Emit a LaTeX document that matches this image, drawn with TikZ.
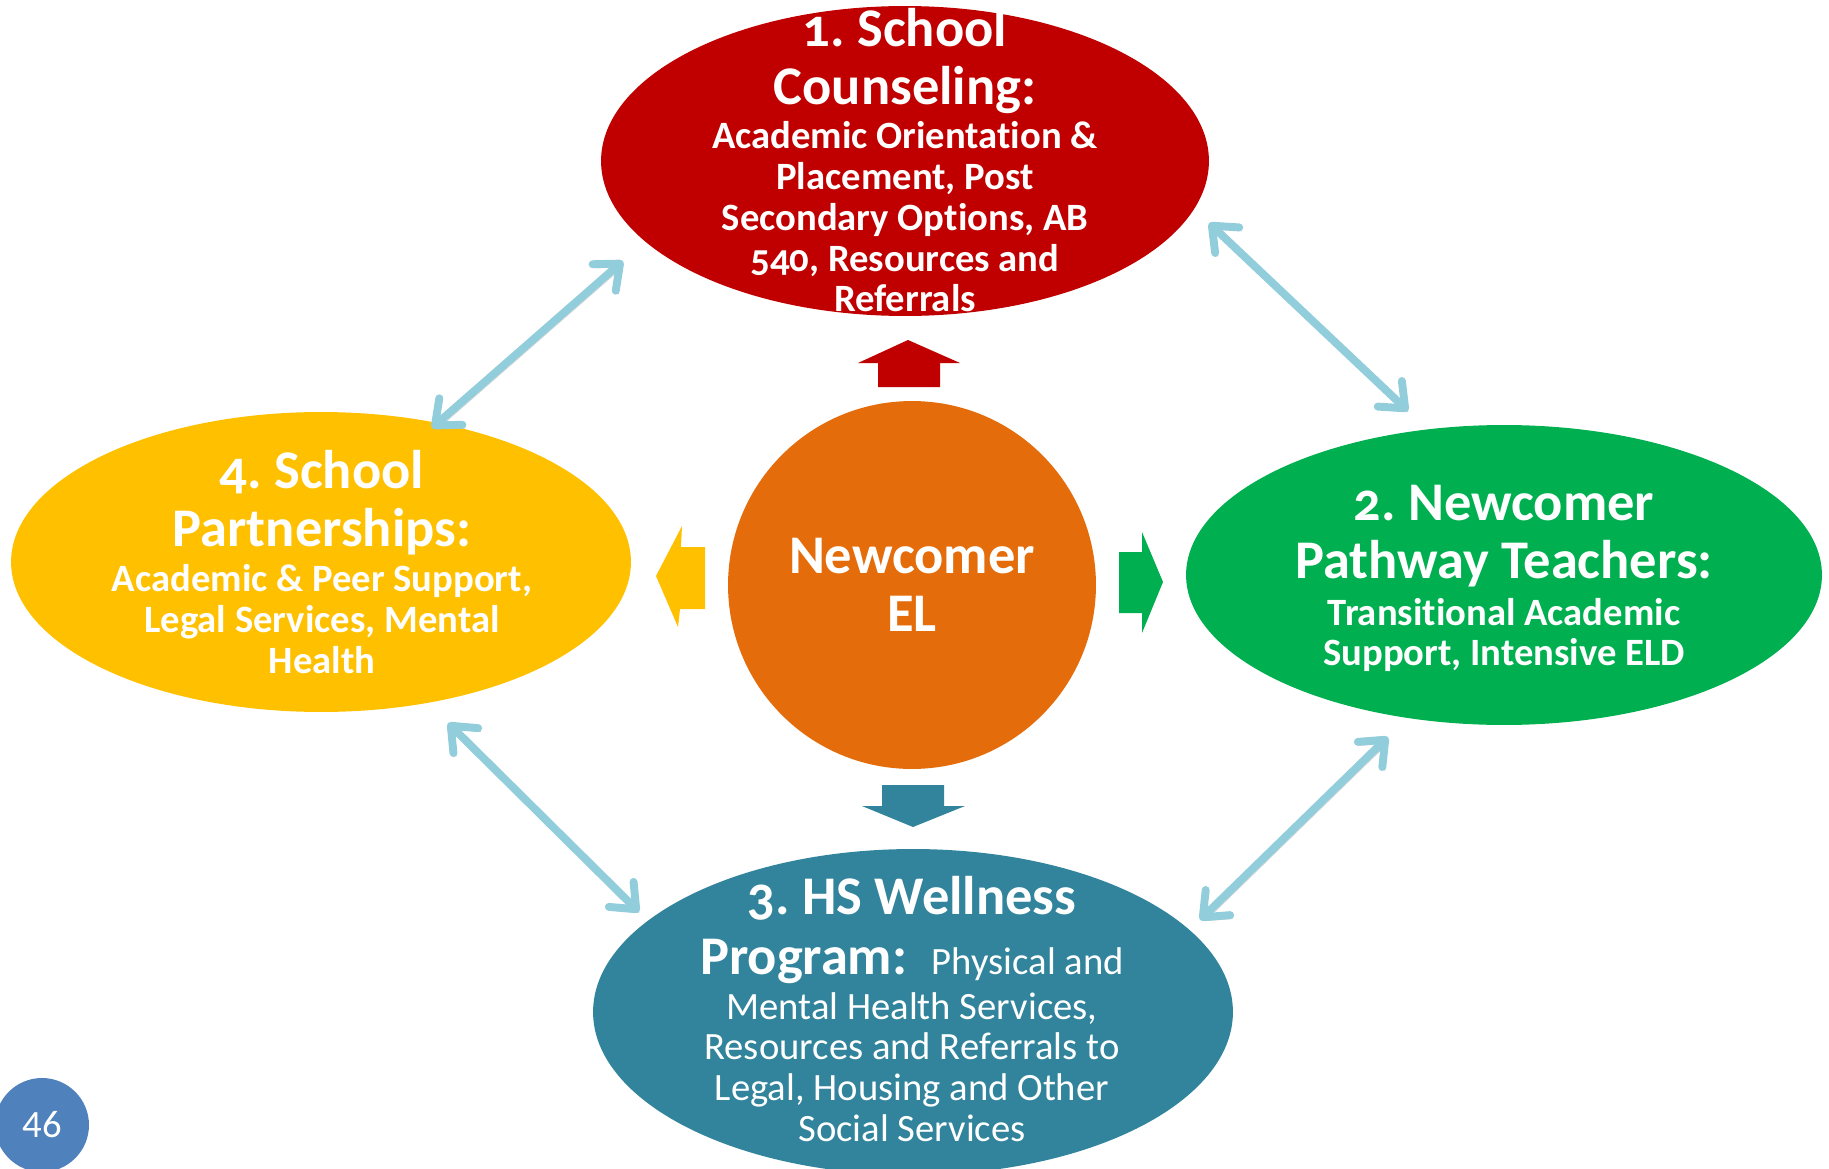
\documentclass[tikz,border=0pt]{standalone}
\usepackage{fontspec}
\setmainfont{Carlito}[Numbers=OldStyle, Ligatures=CommonOff]
\newfontfamily\pagefont{Carlito}
\usepackage{tikz}
\usetikzlibrary{shapes.geometric}
\usetikzlibrary{arrows.meta}
\usepackage{xcolor}
\frenchspacing

\definecolor{counselred}{HTML}{C00000}
\definecolor{elorange}{HTML}{E46C0A}
\definecolor{partneryellow}{HTML}{FFC000}
\definecolor{pathgreen}{HTML}{00B050}
\definecolor{wellteal}{HTML}{31849B}
\definecolor{linkblue}{HTML}{92CDDC}
\definecolor{pageblue}{HTML}{4F81BD}

\tikzset{
  bubble/.style={ellipse, inner sep=0pt},
  headtxt/.style={text=white, align=center, font=\fontsize{31}{33}\selectfont\bfseries},
  bodytxt/.style={text=white, align=center, font=\fontsize{22}{23.2}\selectfont\bfseries},
  biarrow/.style={line width=4.5pt, draw=linkblue,
    {Straight Barb[round,length=12pt,width=20pt]}-{Straight Barb[round,length=12pt,width=20pt]},
    preaction={draw=black!45, opacity=.4, transform canvas={shift={(1.5pt,-2pt)}}}}
}

\begin{document}
\begin{tikzpicture}[x=0.02cm, y=-0.02cm]
  \useasboundingbox (0,0) rectangle (1829,1169);

  \node[bubble, fill=counselred, minimum width=12.16cm, minimum height=6.2cm] (counsel) at (905,161) {};
  \node[bubble, fill=partneryellow, minimum width=12.4cm, minimum height=6cm] (partner) at (321,562) {};
  \node[bubble, fill=pathgreen, minimum width=12.72cm, minimum height=6cm] (pathway) at (1504,575) {};
  \node[bubble, fill=wellteal, minimum width=12.8cm, minimum height=6.52cm] (wellness) at (913,1012) {};
  \node[circle, fill=elorange, minimum size=7.36cm, headtxt] (el) at (912,585) {Newcomer\\EL};


  \node[headtxt] (counselhead) at (905,61) {1. School\\Counseling:};
  \node[bodytxt] (counselbody) at (905,217) {Academic Orientation \&\\Placement, Post\\Secondary Options, AB\\540, Resources and\\Referrals};

  \node[headtxt] (partnerhead) at (322,503) {4. School\\Partnerships:};
  \node[bodytxt] (partnerbody) at (322,619) {Academic \& Peer Support,\\Legal Services, Mental\\Health};

  \node[headtxt] (pathwayhead) at (1504,536) {2. Newcomer\\Pathway Teachers:};
  \node[bodytxt] (pathwaybody) at (1504,635) {Transitional Academic\\Support, Intensive ELD};

  \node[headtxt, font=\fontsize{31}{34}\selectfont\bfseries] (wellhead) at (912,930) {3. HS Wellness\\Program:\ \ {\fontsize{22}{23.2}\selectfont\mdseries Physical and}};
  \node[bodytxt, font=\fontsize{22}{23.2}\selectfont\mdseries] (wellbody) at (912,1067) {Mental Health Services,\\Resources and Referrals to\\Legal, Housing and Other\\Social Services};


  \fill[counselred] (878,387) -- (878,363) -- (858,363) -- (908,340) -- (960,363) -- (940,363) -- (940,387) -- cycle;
  \fill[pathgreen] (1119,552) -- (1142,552) -- (1142,532) -- (1163,582) -- (1142,633) -- (1142,613) -- (1119,613) -- cycle;
  \fill[partneryellow] (705,547) -- (681,547) -- (682,526) -- (656,576) -- (678,627) -- (680,609) -- (705,609) -- cycle;
  \fill[wellteal] (882,785) -- (944,785) -- (944,806) -- (965,806) -- (913,827) -- (862,806) -- (882,806) -- cycle;


  \coordinate (counselW) at (623,261);
  \coordinate (partnerN) at (432,428);
  \coordinate (counselE) at (1209,223);
  \coordinate (pathwayN) at (1408,411);
  \coordinate (partnerS) at (448,723);
  \coordinate (wellnessW) at (639,912);
  \coordinate (pathwayS) at (1388,737);
  \coordinate (wellnessE) at (1200,920);

  \draw[biarrow] (partnerN) -- (counselW);
  \draw[biarrow] (counselE) -- (pathwayN);
  \draw[biarrow] (partnerS) -- (wellnessW);
  \draw[biarrow] (wellnessE) -- (pathwayS);

  \node[circle, fill=pageblue, minimum size=1.88cm, text=white, font=\pagefont\fontsize{22}{22}\selectfont] (page) at (42,1125) {46};

\end{tikzpicture}
\end{document}
